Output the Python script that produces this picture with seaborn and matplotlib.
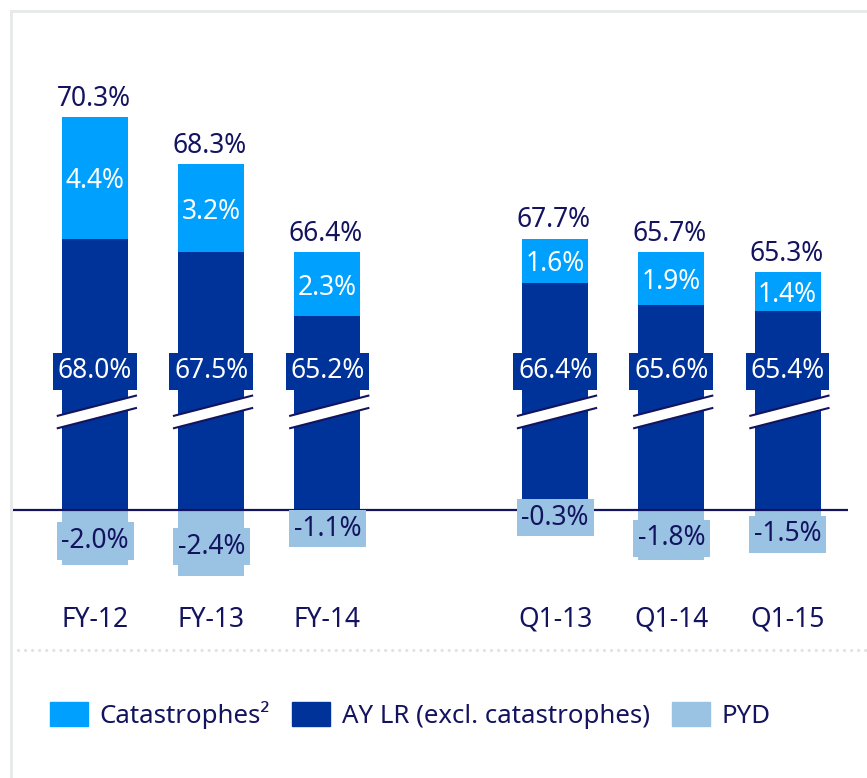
import numpy as np
import pandas as pd
import matplotlib.pyplot as plt
import seaborn as sns
from matplotlib.patches import Patch, Rectangle
from matplotlib.lines import Line2D

# values
periods = ["FY-12", "FY-13", "FY-14", "Q1-13", "Q1-14", "Q1-15"]
total_lr = [70.3, 68.3, 66.4, 67.7, 65.7, 65.3]
catastrophes = [4.4, 3.2, 2.3, 1.6, 1.9, 1.4]
ay_lr = [68.0, 67.5, 65.2, 66.4, 65.6, 65.4]
pyd = [-2.0, -2.4, -1.1, -0.3, -1.8, -1.5]
legend_labels = ["Catastrophes\u00b2", "AY LR (excl. catastrophes)", "PYD"]

axis_break = 58.2  # AY bars are cut (broken axis)

CAT = "#00a0ff"
AY = "#003399"
PYDC = "#99c2e3"
NAVY = "#13135f"

sns.set_style("white")
plt.rcParams['font.family'] = ['Noto Sans', 'DejaVu Sans']

# x positions: FY group, gap, Q1 group
pos = np.array([0, 1, 2, 3.96, 4.96, 5.96])

df = pd.DataFrame({
    "period": periods,
    "pos": pos,
    "ay": np.array(ay_lr) - axis_break,
    "cat": catastrophes,
    "pyd": pyd,
})
df["top"] = df["ay"] + df["cat"]

fig = plt.figure(figsize=(8.67, 7.78), dpi=100)
W, H = 867, 778
ax = fig.add_axes([10 / W, (H - 600) / H, 838 / W, 540 / H])

bar_w = 0.568
common = dict(x="pos", native_scale=True, width=bar_w, saturation=1,
              errorbar=None, linewidth=0, ax=ax)
sns.barplot(data=df, y="top", color=CAT, zorder=2, **common)
sns.barplot(data=df, y="ay", color=AY, zorder=2.1, **common)
sns.barplot(data=df, y="pyd", color=PYDC, zorder=2.1, **common)

px_y = 27.7   # pixels per unit on y
px_x = 116.2  # pixels per unit on x
ax.set_ylim(-(600 - 510) / px_y, (510 - 60) / px_y)
ax.set_xlim(-(95 - 10) / px_x, (848 - 95) / px_x)

ax.axhline(0, color=NAVY, lw=1.6, zorder=2.5)

fs = 19
for i, row in df.iterrows():
    x = row["pos"]
    ax.annotate(f"{total_lr[i]:.1f}%", (x, row["top"]), xytext=(-1, 13),
                textcoords="offset points", ha="center", va="center",
                fontsize=fs, color=NAVY, zorder=5)
    ax.text(x, row["ay"] + row["cat"] / 2, f"{catastrophes[i]:.1f}%",
            ha="center", va="center_baseline", fontsize=fs, color="white", zorder=5)
    ax.text(x, (510 - 368) / px_y, f"{ay_lr[i]:.1f}%", ha="center",
            va="center_baseline", fontsize=fs, color="white", zorder=5,
            bbox=dict(boxstyle="square,pad=0.18", fc=AY, ec="none"))
    ax.text(x, row["pyd"] / 2, f"{pyd[i]:.1f}%", ha="center",
            va="center_baseline", fontsize=fs, color=NAVY, zorder=5,
            bbox=dict(boxstyle="square,pad=0.18", fc=PYDC, ec="none"))

    # break marks
    xs = x + 0.016 + np.array([-0.345, 0.345])
    yc = (510 - 412.4) / px_y
    slope = 1.08
    half = 6.2 / px_y
    lower = yc - half + slope * (xs - x)
    upper = yc + half + slope * (xs - x)
    ax.fill([xs[0], xs[1], xs[1], xs[0]], [lower[0], lower[1], upper[1], upper[0]],
            color="white", zorder=3, lw=0)
    ax.plot(xs, lower, color=NAVY, lw=1.5, zorder=3.1, solid_capstyle="butt")
    ax.plot(xs, upper, color=NAVY, lw=1.5, zorder=3.1, solid_capstyle="butt")

ax.set_xticks(pos)
ax.set_xticklabels(periods, fontsize=fs, color=NAVY)
ax.tick_params(axis="x", length=0, pad=4)
ax.set_yticks([])
ax.set_xlabel("")
ax.set_ylabel("")
sns.despine(ax=ax, left=True, bottom=True)

# panel frame and dotted separator
fig.add_artist(Rectangle((10 / W, 0), 3 / W, (H - 10) / H, transform=fig.transFigure,
                         color="#e6eae9", lw=0))
fig.add_artist(Rectangle((10 / W, (H - 13) / H), 1, 3 / H, transform=fig.transFigure,
                         color="#e6eae9", lw=0))
fig.add_artist(Line2D([18 / W, 1], [(H - 650) / H] * 2, transform=fig.transFigure,
                      color="#dfe3e3", lw=2.3, linestyle=(0, (0.01, 2.2)),
                      dash_capstyle="round"))

handles = [Patch(color=CAT), Patch(color=AY), Patch(color=PYDC)]
fig.legend(handles, legend_labels, loc="center left",
           bbox_to_anchor=(50 / W, (H - 715) / H), ncol=3, frameon=False,
           fontsize=18.6, labelcolor=NAVY, handlelength=1.47, handleheight=1.08,
           handletextpad=0.46, columnspacing=0.85, borderpad=0, borderaxespad=0)

fig.savefig("out.png", dpi=100)
